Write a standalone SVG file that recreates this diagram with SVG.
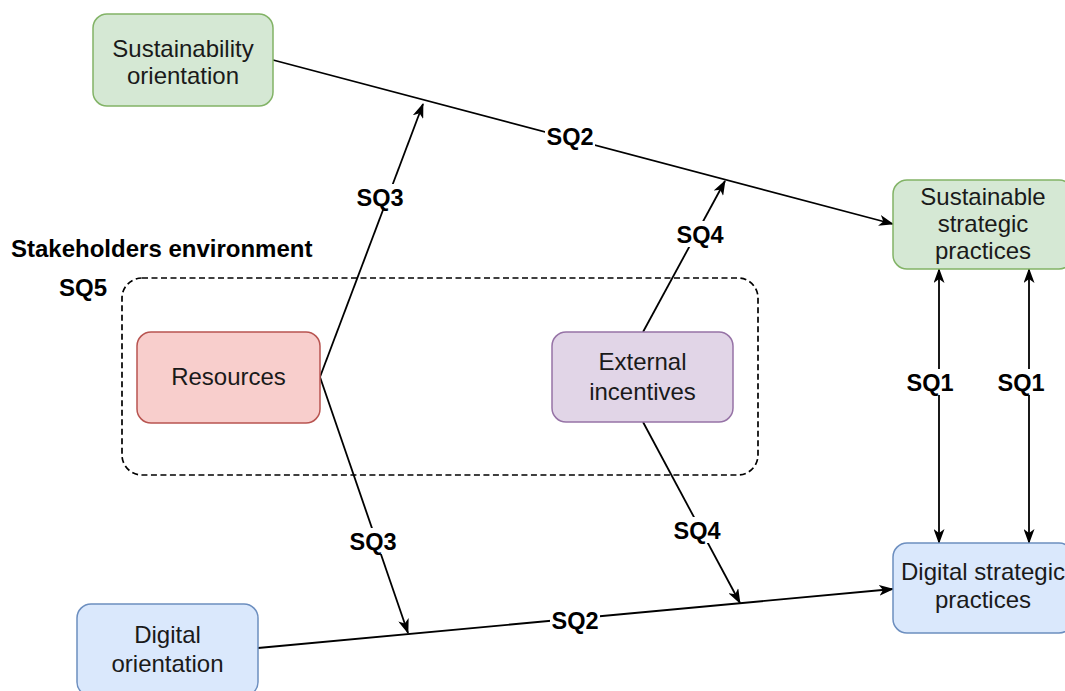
<svg xmlns="http://www.w3.org/2000/svg" width="1065" height="691" viewBox="0 0 1065 691">
  <defs>
    <marker id="arrow" viewBox="0 0 15 11" refX="14" refY="5.5" markerWidth="15" markerHeight="11" markerUnits="userSpaceOnUse" orient="auto-start-reverse">
      <path d="M0,0 L15,5.5 L0,11 L4,5.5 Z" fill="#000"/>
    </marker>
    <style>
      .node rect { stroke-width: 1.5; }
      .green { fill: #d5e8d4; stroke: #82b366; }
      .blue { fill: #dae8fc; stroke: #6c8ebf; }
      .red { fill: #f8cecc; stroke: #b85450; }
      .purple { fill: #e1d5e7; stroke: #9673a6; }
      .ntext { font-family: "Liberation Sans", Arial, sans-serif; font-size: 24px; fill: #1a1a1a; text-anchor: middle; }
      .lbl { font-family: "Liberation Sans", Arial, sans-serif; font-size: 23.5px; font-weight: bold; fill: #000; text-anchor: middle; }
      .head { font-family: "Liberation Sans", Arial, sans-serif; font-size: 24px; font-weight: bold; fill: #000; }
      .edge { fill: none; stroke: #000; stroke-width: 1.8; }
      .lblbg { fill: #fff; }
      .group { fill: none; stroke: #000; stroke-width: 1.7; stroke-dasharray: 6 3.5; }
    </style>
  </defs>

  <rect width="1065" height="691" fill="#fff"/>

  <!-- stakeholders environment container -->
  <g id="stakeholders-environment">
    <rect class="group" x="122" y="278" width="636" height="197" rx="20" ry="20"/>
    <text class="head" x="11" y="257">Stakeholders environment</text>
    <text class="head" x="83" y="296" text-anchor="middle">SQ5</text>
  </g>

  <!-- connectors -->
  <g id="connectors">
    <path class="edge" d="M273,60 L893,224" marker-end="url(#arrow)"/>
    <path class="edge" d="M320,377 L423,104" marker-end="url(#arrow)"/>
    <path class="edge" d="M320,377 L408,633" marker-end="url(#arrow)"/>
    <path class="edge" d="M643,332 L725,181" marker-end="url(#arrow)"/>
    <path class="edge" d="M643,422 L740,603" marker-end="url(#arrow)"/>
    <path class="edge" d="M258,648 L893,589" marker-end="url(#arrow)"/>
    <path class="edge" d="M939,269 L939,543" marker-start="url(#arrow)" marker-end="url(#arrow)"/>
    <path class="edge" d="M1029,269 L1029,543" marker-start="url(#arrow)" marker-end="url(#arrow)"/>

    <!-- edge labels -->
    <rect class="lblbg" x="545" y="123" width="50" height="26"/>
    <text class="lbl" x="570" y="145">SQ2</text>
    <rect class="lblbg" x="355" y="184" width="50" height="26"/>
    <text class="lbl" x="380" y="206">SQ3</text>
    <rect class="lblbg" x="675" y="221" width="50" height="26"/>
    <text class="lbl" x="700" y="243">SQ4</text>
    <rect class="lblbg" x="905" y="369" width="50" height="26"/>
    <text class="lbl" x="930" y="391">SQ1</text>
    <rect class="lblbg" x="996" y="369" width="50" height="26"/>
    <text class="lbl" x="1021" y="391">SQ1</text>
    <rect class="lblbg" x="348" y="528" width="50" height="26"/>
    <text class="lbl" x="373" y="550">SQ3</text>
    <rect class="lblbg" x="672" y="517" width="50" height="26"/>
    <text class="lbl" x="697" y="539">SQ4</text>
    <rect class="lblbg" x="550" y="607" width="50" height="26"/>
    <text class="lbl" x="575" y="629">SQ2</text>
  </g>

  <!-- nodes -->
  <g id="sustainability-orientation" class="node">
    <rect class="green" x="93" y="14" width="180" height="92" rx="14" ry="14"/>
    <text class="ntext" x="183" y="57">Sustainability</text>
    <text class="ntext" x="183" y="84">orientation</text>
  </g>

  <g id="sustainable-strategic-practices" class="node">
    <rect class="green" x="893" y="180" width="180" height="89" rx="14" ry="14"/>
    <text class="ntext" x="983" y="205">Sustainable</text>
    <text class="ntext" x="983" y="232">strategic</text>
    <text class="ntext" x="983" y="259">practices</text>
  </g>

  <g id="resources" class="node">
    <rect class="red" x="137" y="332" width="183" height="91" rx="14" ry="14"/>
    <text class="ntext" x="228.5" y="385">Resources</text>
  </g>

  <g id="external-incentives" class="node">
    <rect class="purple" x="552" y="332" width="181" height="90" rx="14" ry="14"/>
    <text class="ntext" x="642.5" y="370">External</text>
    <text class="ntext" x="642.5" y="400">incentives</text>
  </g>

  <g id="digital-strategic-practices" class="node">
    <rect class="blue" x="893" y="543" width="180" height="90" rx="14" ry="14"/>
    <text class="ntext" x="983" y="580">Digital strategic</text>
    <text class="ntext" x="983" y="608">practices</text>
  </g>

  <g id="digital-orientation" class="node">
    <rect class="blue" x="77" y="604" width="181" height="92" rx="14" ry="14"/>
    <text class="ntext" x="167.5" y="643">Digital</text>
    <text class="ntext" x="167.5" y="672">orientation</text>
  </g>
</svg>
